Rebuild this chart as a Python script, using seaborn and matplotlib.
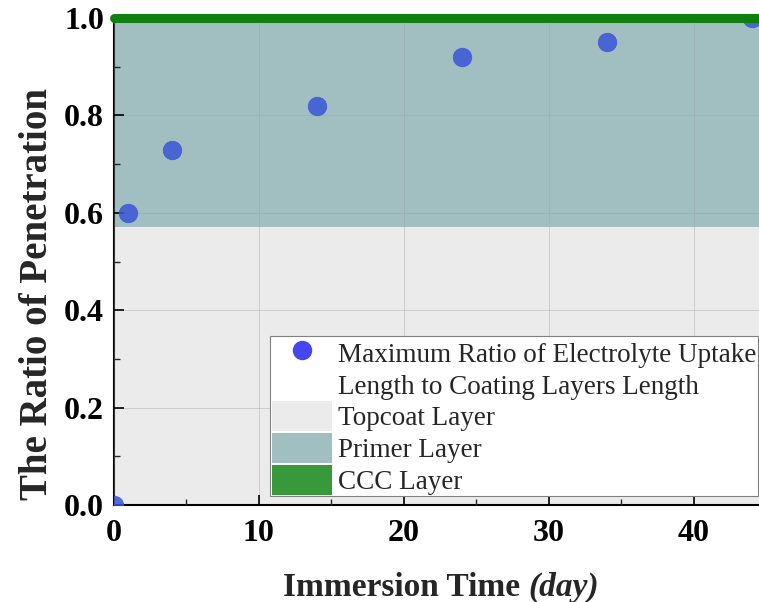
import matplotlib
matplotlib.use("Agg")
import matplotlib.pyplot as plt
import seaborn as sns
import pandas as pd
from matplotlib.patches import Patch
from matplotlib.lines import Line2D
from matplotlib.ticker import MultipleLocator
from matplotlib.offsetbox import TextArea, HPacker, AnchoredOffsetbox

# ---- data ----
immersion_days = [0, 1, 4, 14, 24, 34, 44]
penetration_ratio = [0.0, 0.60, 0.73, 0.82, 0.92, 0.95, 1.0]
topcoat_range = (0.0, 0.57)
primer_range = (0.57, 1.0)
ccc_level = 1.0
x_ticks = [0, 10, 20, 30, 40]
y_ticks = [0.0, 0.2, 0.4, 0.6, 0.8, 1.0]
legend_labels = ["Maximum Ratio of Electrolyte Uptake",
                 "Length to Coating Layers Length",
                 "Topcoat Layer", "Primer Layer", "CCC Layer"]

df = pd.DataFrame({"day": immersion_days, "ratio": penetration_ratio})

sns.set_theme(style="ticks")
plt.rcParams["font.family"] = ["Liberation Serif", "DejaVu Serif"]

fig = plt.figure(figsize=(7.59, 6.02), dpi=100)
ax = fig.add_axes([0.150, 0.161, 0.850, 0.809])

topcoat_c = "#ebebeb"
primer_c = "#a1bfc0"
ccc_c = "#0f800f"
ccc_leg_c = "#37993a"
pt_c = "#3a55d8"

ax.set_facecolor("white")
ax.axhspan(*topcoat_range, color=topcoat_c, zorder=0, lw=0)
ax.axhspan(*primer_range, color=primer_c, zorder=0, lw=0)

ax.grid(True, which="major", color="#9aa0a0", lw=0.6, alpha=0.45, zorder=1)
ax.set_axisbelow(False)

sns.scatterplot(data=df, x="day", y="ratio", ax=ax, s=180, color=pt_c,
                alpha=0.85, edgecolor=pt_c, linewidth=0.5, zorder=3,
                legend=False)

ax.axhline(ccc_level, color=ccc_c, lw=6.5, zorder=4, clip_on=False)

ax.set_xlim(0, 44.5)
ax.set_ylim(0, 1.0)
ax.set_xticks(x_ticks)
ax.set_yticks(y_ticks)
ax.xaxis.set_minor_locator(MultipleLocator(5))
ax.yaxis.set_minor_locator(MultipleLocator(0.1))
ax.tick_params(which="major", direction="in", length=7, width=1.2,
               labelsize=23, colors="black")
ax.tick_params(axis="x", which="major", pad=10)
ax.tick_params(axis="y", which="major", pad=7)
ax.tick_params(which="minor", direction="in", length=4, width=1.0)
for lab in ax.get_xticklabels() + ax.get_yticklabels():
    lab.set_fontweight("bold")

for side in ["top", "right"]:
    ax.spines[side].set_visible(False)
for side in ["left", "bottom"]:
    ax.spines[side].set_color("black")
    ax.spines[side].set_linewidth(1.5)

ax.set_xlabel("")
ax.set_ylabel("The Ratio of Penetration", fontsize=28, fontweight="bold")
ax.yaxis.set_label_coords(-0.089, 0.433)

# x label with mixed bold / bold-italic styles
t1 = TextArea("Immersion Time ", textprops=dict(fontsize=24, fontweight="bold",
                                                  family="Liberation Serif"))
t2 = TextArea("(day)", textprops=dict(fontsize=24, fontweight="bold",
                                        style="italic", family="Liberation Serif"))
box = HPacker(children=[t1, t2], align="baseline", pad=0, sep=0)
anch = AnchoredOffsetbox(loc="center", child=box, frameon=False,
                         bbox_to_anchor=(0.581, 0.024),
                         bbox_transform=fig.transFigure, borderpad=0, pad=0)
fig.add_artist(anch)

handles = [
    Line2D([], [], marker="o", ls="", markersize=13, color="#4545f2"),
    Patch(facecolor="none", edgecolor="none"),
    Patch(facecolor=topcoat_c, edgecolor="none"),
    Patch(facecolor=primer_c, edgecolor="none"),
    Patch(facecolor=ccc_leg_c, edgecolor="none"),
]
leg = ax.legend(handles, legend_labels, loc="lower right",
                bbox_to_anchor=(0.999, 0.018), fontsize=19.5, frameon=True,
                fancybox=False, framealpha=1, edgecolor="#808080",
                handlelength=2.2, handleheight=1.33, labelspacing=0.06,
                handletextpad=0.25, borderpad=0.06, borderaxespad=0)
leg.get_frame().set_linewidth(0.8)
leg.set_zorder(10)

fig.savefig("out.png", dpi=100)
